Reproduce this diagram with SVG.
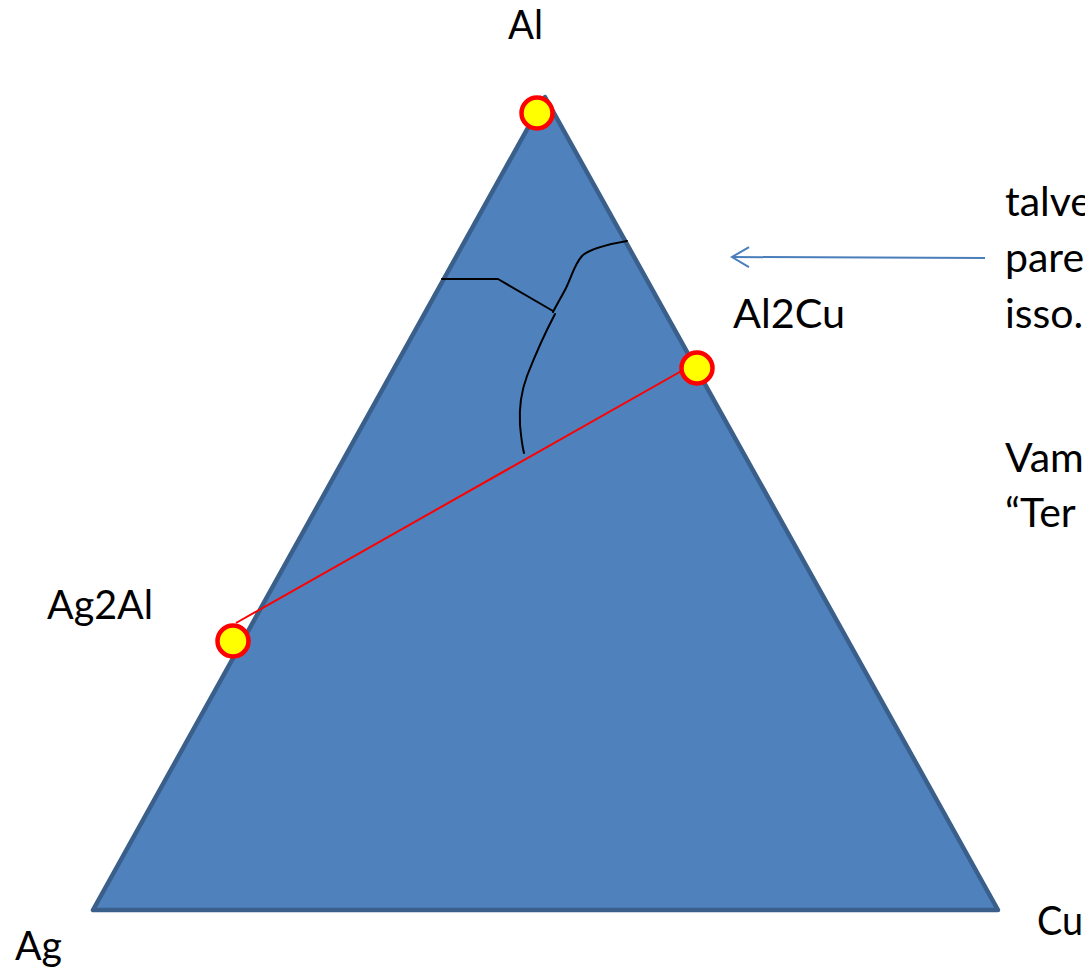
<svg xmlns="http://www.w3.org/2000/svg" width="1085" height="976" viewBox="0 0 1085 976">
<defs>
<style>
.lbl{font-family:Lato,"Open Sans","Liberation Sans",sans-serif;font-size:41px;fill:#000}
.vtx{fill:#ffff00;stroke:#ff0000;stroke-width:4.5}
.bnd{fill:none;stroke:#000;stroke-width:2;stroke-linecap:round;stroke-linejoin:round}
</style>
<marker id="arr" viewBox="0 0 20 24" refX="18" refY="12" markerWidth="20" markerHeight="24" markerUnits="userSpaceOnUse" orient="auto">
<path d="M1,2 L18,12 L1,22" fill="none" stroke="#4a7ebb" stroke-width="2"/>
</marker>
</defs>
<rect width="1085" height="976" fill="#fff"/>
<g id="triangle">
<polygon points="545,97 93,910 998,910" fill="#4f81bd" stroke="#3a5f8b" stroke-width="4.5" stroke-linejoin="round"/>
</g>
<g id="connectors">
<path class="bnd" d="M442,279 L498,279 L553,311"/>
<path class="bnd" d="M627,241 C604,245 589,249 582,256 C574,265 572,276 566,288 C562,296 557,304 553,312"/>
<path class="bnd" d="M555,314 C545,333 534,358 527,376 C521,392 519,408 520,425 C521,436 522,445 524,453"/>
<line x1="236" y1="623" x2="685" y2="369" stroke="#ff0000" stroke-width="2"/>
<line x1="985" y1="258" x2="732" y2="257" stroke="#4a7ebb" stroke-width="2" marker-end="url(#arr)"/>
</g>
<g id="node-Al">
<circle class="vtx" cx="537" cy="113" r="15.5"/>
<text class="lbl" x="508" y="39" textLength="35" lengthAdjust="spacingAndGlyphs">Al</text>
</g>
<g id="node-Al2Cu">
<circle class="vtx" cx="697" cy="368" r="15.5"/>
<text class="lbl" x="733" y="328" textLength="112" lengthAdjust="spacingAndGlyphs">Al2Cu</text>
</g>
<g id="node-Ag2Al">
<circle class="vtx" cx="233" cy="641" r="15.5"/>
<text class="lbl" x="47" y="619" textLength="106" lengthAdjust="spacingAndGlyphs">Ag2Al</text>
</g>
<g id="node-Ag">
<text class="lbl" x="15" y="960" textLength="47" lengthAdjust="spacingAndGlyphs">Ag</text>
</g>
<g id="node-Cu">
<text class="lbl" x="1037" y="935" textLength="46" lengthAdjust="spacingAndGlyphs">Cu</text>
</g>
<g id="note">
<text class="lbl" x="1005" y="216">talve</text>
<text class="lbl" x="1005" y="272">pare</text>
<text class="lbl" x="1005" y="328">isso.</text>
<text class="lbl" x="1005" y="472">Vam</text>
<text class="lbl" x="1005" y="527">“Ter</text>
</g>
</svg>
